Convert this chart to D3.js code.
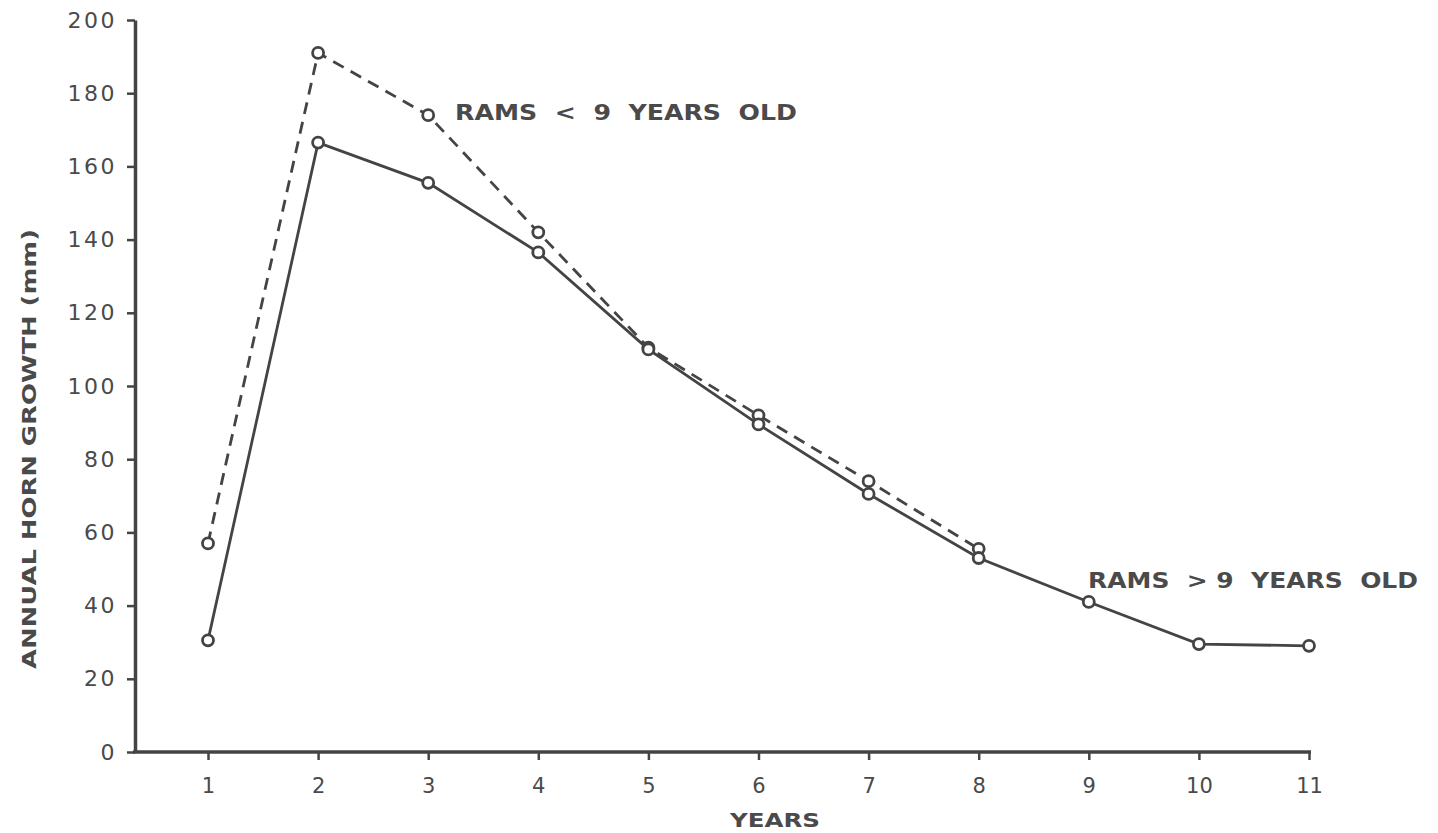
<!DOCTYPE html>
<html>
<head>
<meta charset="utf-8">
<script src="https://cdn.jsdelivr.net/npm/d3@7"></script>
<style>
  body { margin: 0; background: #fff; }
  text { font-family: "DejaVu Sans", "Liberation Sans", sans-serif; fill: #4a4a4a; }
</style>
</head>
<body>
<div id="chart"></div>
<script>
// data
var years = [1, 2, 3, 4, 5, 6, 7, 8, 9, 10, 11];
var allRams = [30.5, 166.5, 155.5, 136.5, 110, 89.5, 70.5, 53, 41, 29.5, 29];   // solid line
var youngRams = [57, 191, 174, 142, 110.5, 92, 74, 55.5];                       // dashed line
var yTicks = [0, 20, 40, 60, 80, 100, 120, 140, 160, 180, 200];

var width = 1438, height = 833;
var ink = "#444";

var svg = d3.select("#chart").append("svg").attr("width", width).attr("height", height);

var x = d3.scaleLinear().domain([1, 11]).range([208, 1309]);
var y = d3.scaleLinear().domain([0, 200]).range([752, 20]);
var x0 = 135; // y axis position

// y axis
var yAxis = svg.append("g")
    .attr("transform", "translate(" + x0 + ",0)")
    .call(d3.axisLeft(y).tickValues(yTicks).tickSize(8).tickSizeOuter(0).tickPadding(10));
yAxis.select(".domain").attr("stroke", ink).attr("stroke-width", 3.5);
yAxis.selectAll(".tick line").attr("stroke", ink).attr("stroke-width", 2.5);
yAxis.selectAll(".tick text")
    .attr("font-size", 22)
    .attr("letter-spacing", 2.5)
    .attr("fill", "#4a4a4a");

// x axis
var xAxis = svg.append("g")
    .attr("transform", "translate(0," + y(0) + ")")
    .call(d3.axisBottom(x).tickValues(years).tickSize(8).tickSizeOuter(0).tickPadding(18));
xAxis.select(".domain").remove();
xAxis.selectAll(".tick line").attr("stroke", ink).attr("stroke-width", 2.5);
xAxis.selectAll(".tick text").attr("font-size", 21).attr("fill", "#4a4a4a");
svg.append("line")
    .attr("x1", x0 - 2).attr("x2", x(11) + 2)
    .attr("y1", y(0)).attr("y2", y(0))
    .attr("stroke", ink).attr("stroke-width", 3.5);

// axis titles
svg.append("text")
    .attr("x", 775).attr("y", 827)
    .attr("text-anchor", "middle")
    .attr("font-size", 20).attr("font-weight", "bold")
    .attr("textLength", 90).attr("lengthAdjust", "spacingAndGlyphs")
    .text("YEARS");
svg.append("text")
    .attr("transform", "translate(36,449) rotate(-90)")
    .attr("text-anchor", "middle")
    .attr("font-size", 19).attr("font-weight", "bold")
    .attr("textLength", 440).attr("lengthAdjust", "spacingAndGlyphs")
    .text("ANNUAL HORN GROWTH (mm)");

var line = d3.line()
    .x(function(d, i) { return x(years[i]); })
    .y(function(d) { return y(d); });

svg.append("path")
    .datum(youngRams)
    .attr("fill", "none")
    .attr("stroke", ink)
    .attr("stroke-width", 2.8)
    .attr("stroke-dasharray", "12,8")
    .attr("d", line);

svg.append("path")
    .datum(allRams)
    .attr("fill", "none")
    .attr("stroke", ink)
    .attr("stroke-width", 2.8)
    .attr("d", line);

function drawPoints(data, cls) {
    svg.selectAll("circle." + cls)
        .data(data)
        .enter()
        .append("circle")
        .attr("class", cls)
        .attr("cx", function(d, i) { return x(years[i]); })
        .attr("cy", function(d) { return y(d); })
        .attr("r", 5.5)
        .attr("fill", "#fff")
        .attr("stroke", ink)
        .attr("stroke-width", 2.8);
}
drawPoints(youngRams, "young");
drawPoints(allRams, "all");

// labels
svg.append("text")
    .attr("x", 455).attr("y", 120)
    .attr("font-size", 21).attr("font-weight", "bold")
    .attr("textLength", 342).attr("lengthAdjust", "spacingAndGlyphs")
    .attr("xml:space", "preserve")
    .text("RAMS  <  9  YEARS  OLD");
svg.append("text")
    .attr("x", 1088).attr("y", 588)
    .attr("font-size", 21).attr("font-weight", "bold")
    .attr("textLength", 330).attr("lengthAdjust", "spacingAndGlyphs")
    .attr("xml:space", "preserve")
    .text("RAMS  > 9  YEARS  OLD");
</script>
</body>
</html>
